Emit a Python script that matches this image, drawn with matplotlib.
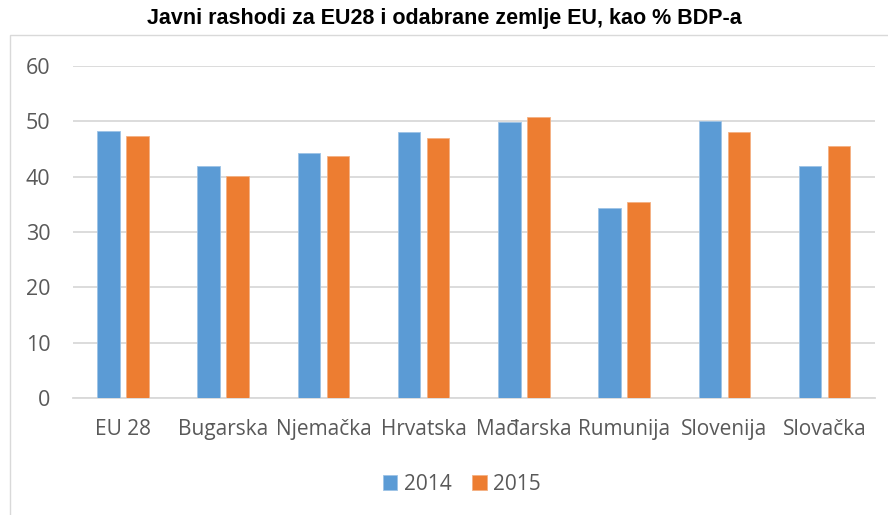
import numpy as np
import matplotlib.pyplot as plt
from matplotlib.patches import Rectangle

zemlje = ['EU 28', 'Bugarska', 'Njemačka', 'Hrvatska', 'Mađarska', 'Rumunija', 'Slovenija', 'Slovačka']
god_2014 = [48.2, 42.0, 44.3, 48.1, 49.9, 34.3, 50.0, 41.9]
god_2015 = [47.4, 40.1, 43.8, 47.0, 50.8, 35.5, 48.1, 45.6]
y_ticks = [0, 10, 20, 30, 40, 50, 60]

lbl_font = 'Open Sans'

fig = plt.figure(figsize=(8.88, 5.15), dpi=100)
ax = fig.add_axes([0.082, 0.227, 0.903, 0.645])

x = np.arange(len(zemlje))
w = 0.225
ax.bar(x - 0.145, god_2014, w, color='#5B9BD5', edgecolor='#9DC3E6', linewidth=0.6, label='2014', zorder=3)
ax.bar(x + 0.145, god_2015, w, color='#ED7D31', edgecolor='#F4B183', linewidth=0.6, label='2015', zorder=3)

ax.set_xlim(-0.5, len(zemlje) - 0.5)
ax.set_ylim(0, 60)
ax.set_yticks(y_ticks)
ax.grid(axis='y', color='#d9d9d9', linewidth=1.3, zorder=0)
for s in ['top', 'right', 'left']:
    ax.spines[s].set_visible(False)
ax.spines['bottom'].set_color('#d9d9d9')
ax.spines['bottom'].set_linewidth(1.3)
ax.tick_params(length=0)
ax.tick_params(axis='y', pad=16, labelsize=15.5, labelcolor='#595959')
ax.tick_params(axis='x', pad=15, labelsize=15, labelcolor='#595959')
ax.set_xticks(x)
ax.set_xticklabels(zemlje, family=lbl_font)
for t in ax.get_yticklabels():
    t.set_family(lbl_font)

fig.text(0.5, 0.965, 'Javni rashodi za EU28 i odabrane zemlje EU, kao % BDP-a',
         ha='center', va='center', fontsize=15.5, fontweight='bold', family='Liberation Sans')

leg = fig.legend(loc='center', bbox_to_anchor=(0.52, 0.06), ncol=2, frameon=False,
                 handlelength=0.7, handleheight=0.7, handletextpad=0.3, columnspacing=1.0,
                 prop={'family': lbl_font, 'size': 15})
for t in leg.get_texts():
    t.set_color('#595959')

fig.patches.append(Rectangle((10 / 888, -0.05), 1.0, 1 - 35 / 515 + 0.05, transform=fig.transFigure,
                             fill=False, edgecolor='#d9d9d9', linewidth=1.0))

fig.savefig('out.png', dpi=100)
